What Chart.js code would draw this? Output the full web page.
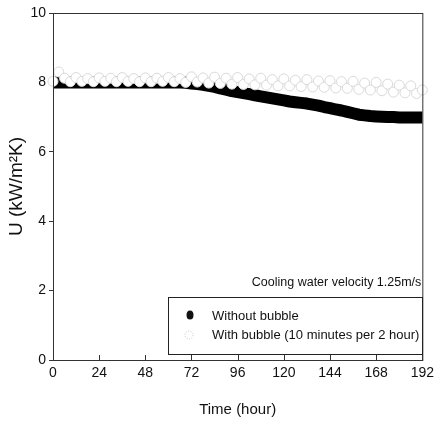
<!DOCTYPE html>
<html>
<head>
<meta charset="utf-8">
<script src="https://cdn.jsdelivr.net/npm/chart.js@4/dist/chart.umd.min.js"></script>
<style>
  html, body { margin: 0; padding: 0; background: #fff; }
  canvas { display: block; }
</style>
</head>
<body>
<canvas id="uChart" width="439" height="424"></canvas>
<script>
// Sampling times (hour)
const hours = [
    0, 3, 6, 9, 12, 15, 18, 21, 24, 27, 30, 33, 36, 39, 42, 45, 48,
    51, 54, 57, 60, 63, 66, 69, 72, 75, 78, 81, 84, 87, 90, 93, 96,
    99, 102, 105, 108, 111, 114, 117, 120, 123, 126, 129, 132, 135, 138, 141, 144,
    147, 150, 153, 156, 159, 162, 165, 168, 171, 174, 177, 180, 183, 186, 189, 192
];

// U (kW/m2K) without bubble
const withoutBubble = [
    8.00, 8.00, 8.00, 8.00, 8.00, 8.00, 8.00, 8.00, 8.00, 8.00, 8.00, 8.00, 8.00, 8.00, 8.00, 8.00, 8.00,
    8.00, 8.00, 8.00, 8.00, 8.00, 8.00, 7.99, 7.97, 7.95, 7.93, 7.90, 7.87, 7.83, 7.79, 7.75, 7.72,
    7.69, 7.66, 7.63, 7.60, 7.57, 7.54, 7.51, 7.48, 7.45, 7.43, 7.41, 7.39, 7.36, 7.33, 7.29, 7.26,
    7.22, 7.19, 7.15, 7.11, 7.07, 7.05, 7.03, 7.02, 7.01, 7.00, 7.00, 6.99, 6.99, 6.99, 6.99, 6.99
];

// U (kW/m2K) with bubble (10 minutes per 2 hour)
const withBubble = [
    8.03, 8.30, 8.12, 8.02, 8.14, 8.03, 8.11, 8.02, 8.13, 8.03, 8.12, 8.02, 8.14, 8.03, 8.11, 8.02, 8.13,
    8.02, 8.12, 8.03, 8.14, 8.02, 8.11, 8.00, 8.16, 8.01, 8.13, 7.98, 8.15, 7.97, 8.12, 7.95, 8.14,
    7.94, 8.10, 7.93, 8.12, 7.92, 8.08, 7.90, 8.10, 7.90, 8.06, 7.88, 8.08, 7.87, 8.04, 7.86, 8.05,
    7.84, 8.02, 7.83, 8.03, 7.80, 7.98, 7.78, 8.00, 7.76, 7.95, 7.72, 7.92, 7.70, 7.90, 7.68, 7.78
];

const xTicks = [0, 24, 48, 72, 96, 120, 144, 168, 192];
const yTicks = [0, 2, 4, 6, 8, 10];

const legendItems = ['Without bubble', 'With bubble (10 minutes per 2 hour)'];
const noteText = 'Cooling water velocity 1.25m/s';

const FONT = "'Liberation Sans', Arial, sans-serif";
const INK = '#111';

function toPoints(values) {
    return values.map((v, i) => ({ x: hours[i], y: v }));
}

// White page, plot frame, inward x ticks, legend box and note
const framePlugin = {
    id: 'frame',
    beforeDraw(chart) {
        const ctx = chart.ctx;
        ctx.save();
        ctx.fillStyle = '#fff';
        ctx.fillRect(0, 0, chart.width, chart.height);
        ctx.restore();
    },
    afterDatasetsDraw(chart) {
        const { ctx, chartArea: a, scales } = chart;
        ctx.save();
        ctx.strokeStyle = '#333';
        ctx.lineWidth = 1;
        ctx.strokeRect(a.left + 0.5, a.top + 0.5, a.right - a.left, a.bottom - a.top);

        // inward ticks on the time axis
        ctx.beginPath();
        xTicks.forEach(t => {
            const px = Math.round(scales.x.getPixelForValue(t)) + 0.5;
            ctx.moveTo(px, a.bottom);
            ctx.lineTo(px, a.bottom - 5);
        });
        ctx.stroke();

        // note
        ctx.fillStyle = INK;
        ctx.font = '12.5px ' + FONT;
        ctx.textAlign = 'right';
        ctx.textBaseline = 'middle';
        ctx.fillText(noteText, a.right - 1, 283);

        // legend box
        const bx = 168, by = 297, bw = 254, bh = 57;
        ctx.fillStyle = '#fff';
        ctx.fillRect(bx, by, bw, bh);
        ctx.strokeStyle = '#222';
        ctx.strokeRect(bx + 0.5, by + 0.5, bw, bh);

        ctx.fillStyle = INK;
        ctx.beginPath();
        ctx.ellipse(190, 315, 3.5, 4.5, 0, 0, Math.PI * 2);
        ctx.fill();

        ctx.strokeStyle = '#c8c8c8';
        ctx.setLineDash([1, 1.5]);
        ctx.beginPath();
        ctx.arc(189, 335, 4, 0, Math.PI * 2);
        ctx.stroke();
        ctx.setLineDash([]);

        ctx.fillStyle = INK;
        ctx.font = '13px ' + FONT;
        ctx.textAlign = 'left';
        ctx.fillText(legendItems[0], 212, 316);
        ctx.fillText(legendItems[1], 212, 335);
        ctx.restore();
    }
};

const ctx = document.getElementById('uChart').getContext('2d');
new Chart(ctx, {
    type: 'scatter',
    data: {
        datasets: [
            {
                // dense markers merge into one thick band
                label: legendItems[0],
                data: toPoints(withoutBubble),
                showLine: true,
                borderColor: '#000',
                backgroundColor: '#000',
                borderWidth: 12,
                borderCapStyle: 'butt',
                borderJoinStyle: 'round',
                pointRadius: 0,
                order: 2,
                clip: false
            },
            {
                label: legendItems[1],
                data: toPoints(withBubble),
                backgroundColor: '#fff',
                borderColor: '#dadada',
                pointRadius: 5,
                pointBorderWidth: 1,
                order: 1,
                clip: false
            }
        ]
    },
    options: {
        responsive: false,
        animation: false,
        events: [],
        layout: { padding: { top: 13, right: 14, left: 0, bottom: 0 } },
        plugins: {
            legend: { display: false },
            tooltip: { enabled: false }
        },
        scales: {
            x: {
                type: 'linear',
                min: 0,
                max: 192,
                afterFit: (scale) => { scale.height = 64; },
                afterBuildTicks: (scale) => { scale.ticks = xTicks.map(v => ({ value: v })); },
                grid: { display: false, drawTicks: false },
                border: { display: false },
                ticks: { color: INK, font: { family: FONT, size: 14 }, padding: 5, maxRotation: 0 },
                title: {
                    display: true,
                    text: 'Time (hour)',
                    color: INK,
                    font: { family: FONT, size: 15 },
                    padding: { top: 0, bottom: 5 }
                }
            },
            y: {
                type: 'linear',
                min: 0,
                max: 10,
                afterFit: (scale) => { scale.width = 53; },
                afterBuildTicks: (scale) => { scale.ticks = yTicks.map(v => ({ value: v })); },
                grid: { drawOnChartArea: false, tickLength: 4, color: '#333' },
                border: { display: false },
                ticks: { color: INK, font: { family: FONT, size: 14 }, padding: 3 },
                title: {
                    display: true,
                    text: 'U (kW/m²K)',
                    color: INK,
                    font: { family: FONT, size: 19 },
                    padding: { top: 5, bottom: 0 }
                }
            }
        }
    },
    plugins: [framePlugin]
});
</script>
</body>
</html>
